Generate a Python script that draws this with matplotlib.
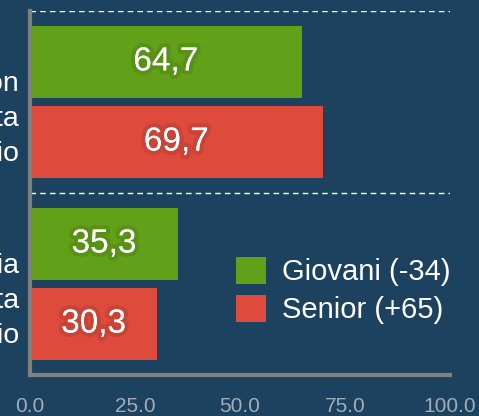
import numpy as np
import matplotlib
matplotlib.use('Agg')
import matplotlib.pyplot as plt
import matplotlib.patheffects as pe
import matplotlib.transforms as mtransforms

# data
categories = ['Prenotazione on\nline della visita\nin studio',
              'Prenotazione in farmacia\no telefonata\nallo studio']
giovani = [64.7, 35.3]
senior = [69.7, 30.3]
series_names = ['Giovani (-34)', 'Senior (+65)']
xticks = [0, 25, 50, 75, 100]

bg = '#1d4260'
green = '#62a01a'
red = '#de4a3c'

plt.rcParams['font.family'] = ['Liberation Sans', 'DejaVu Sans']

fig = plt.figure(figsize=(4.79, 4.16), dpi=100, facecolor=bg)
ax = fig.add_axes([0.0626, 0.0986, 0.8768, 0.875])
ax.set_facecolor(bg)

y = np.arange(len(categories))
h = 0.4
b1 = ax.barh(y - 0.22, giovani, height=h, color=green, label=series_names[0])
b2 = ax.barh(y + 0.22, senior, height=h, color=red, label=series_names[1])

glow = [pe.withStroke(linewidth=6, foreground=(0, 0, 0, 0.09))]
for bars, vals in [(b1, giovani), (b2, senior)]:
    labs = [('%.1f' % v).replace('.', ',') for v in vals]
    txts = ax.bar_label(bars, labels=labs, label_type='center',
                        color='white', fontsize=24)
    for t in txts:
        t.set_path_effects(glow)

ax.set_xlim(0, 100)
ax.set_ylim(1.5, -0.5)
ax.set_xticks(xticks)
ax.set_xticklabels(['%.1f' % v for v in xticks])
ax.set_yticks(y)
ax.set_yticklabels(categories, fontsize=20.5, color='white', linespacing=1.45,
                   multialignment='right')
ax.set_yticks([-0.5, 0.5], minor=True)
ax.grid(True, axis='y', which='minor', color='white', linestyle=(0, (4, 3)),
        linewidth=1)
ax.tick_params(axis='both', which='both', length=0)
ax.tick_params(axis='x', labelsize=15, labelcolor='#a3adb8', pad=16)
ax.tick_params(axis='y', pad=8)

offset = mtransforms.ScaledTranslation(0, -10 / 100, fig.dpi_scale_trans)
for lab in ax.get_yticklabels():
    lab.set_transform(lab.get_transform() + offset)

for s in ['top', 'right']:
    ax.spines[s].set_visible(False)
for s in ['left', 'bottom']:
    ax.spines[s].set_color('#808080')
    ax.spines[s].set_linewidth(3)

ax.legend(loc='upper left', bbox_to_anchor=(0.49, 0.325), frameon=False,
          fontsize=21, labelcolor='white', handlelength=1.05,
          handleheight=1.05, handletextpad=0.55, labelspacing=0.3,
          borderpad=0, borderaxespad=0)

fig.savefig('out.png', dpi=100, facecolor=bg)
